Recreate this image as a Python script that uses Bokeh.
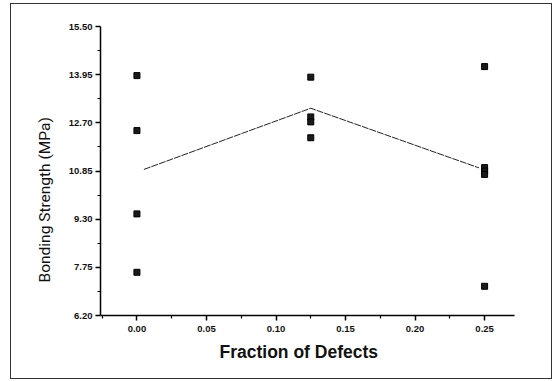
from bokeh.plotting import figure
from bokeh.models import FixedTicker, Range1d, ColumnDataSource, Title, InlineStyleSheet
from bokeh.embed import file_html
from bokeh.resources import INLINE

# Measured bonding strength (MPa) at each defect fraction
defect_fraction = [0.0, 0.0, 0.0, 0.0,
                   0.125, 0.125, 0.125, 0.125,
                   0.25, 0.25, 0.25, 0.25, 0.25]
bonding_strength = [13.92, 12.15, 9.47, 7.59,
                    13.87, 12.59, 12.43, 11.92,
                    14.21, 10.96, 10.85, 10.74, 7.14]

# Trend line through the groups
trend_x = [0.005, 0.125, 0.246]
trend_y = [10.90, 12.87, 10.95]

# Axis ticks and their printed labels
x_ticks = [0.0, 0.05, 0.10, 0.15, 0.20, 0.25]
x_tick_labels = ["0.00", "0.05", "0.10", "0.15", "0.20", "0.25"]
y_ticks = [6.20, 7.75, 9.30, 10.85, 12.40, 13.95, 15.50]
y_tick_labels = ["6.20", "7.75", "9.30", "10.85", "12.70", "13.95", "15.50"]

FONT = "Liberation Sans"

p = figure(width=555, height=381, output_backend="svg", toolbar_location=None,
           x_range=Range1d(-0.0262, 0.2715), y_range=Range1d(6.20, 15.50),
           min_border_left=100, min_border_right=41,
           min_border_top=26, min_border_bottom=66)

p.outline_line_color = None
p.xgrid.visible = False
p.ygrid.visible = False
p.background_fill_color = "white"
p.border_fill_color = "white"

# Outer frame drawn around the whole chart
p.stylesheets = [InlineStyleSheet(css="""
:host { position: relative; }
:host::after {
  content: "";
  position: absolute;
  left: 10px; top: 3px;
  width: 540px; height: 374px;
  border: 1.5px solid #333333;
  pointer-events: none;
}
""")]

# Trend line
p.line(trend_x, trend_y, line_color="#222222", line_width=1, line_dash="7 1")

# Data points
src = ColumnDataSource(dict(x=defect_fraction, y=bonding_strength))
p.scatter("x", "y", source=src, marker="square", size=6,
          fill_color="#1a1a1a", line_color="black", line_width=1)

# X axis
p.xaxis.ticker = FixedTicker(ticks=x_ticks,
                             minor_ticks=[-0.025, 0.025, 0.075, 0.125, 0.175, 0.225, 0.275])
p.xaxis.major_label_overrides = {t: s for t, s in zip(x_ticks, x_tick_labels)}

# Y axis
mids = [(a + b) / 2 for a, b in zip(y_ticks[:-1], y_ticks[1:])]
p.yaxis.ticker = FixedTicker(ticks=y_ticks, minor_ticks=mids)
p.yaxis.major_label_overrides = {t: s for t, s in zip(y_ticks, y_tick_labels)}

for ax in (p.xaxis[0], p.yaxis[0]):
    ax.axis_line_color = "black"
    ax.axis_line_width = 1.5
    ax.major_tick_line_color = "black"
    ax.major_tick_line_width = 1.5
    ax.major_tick_out = 5
    ax.major_tick_in = 0
    ax.minor_tick_line_color = "black"
    ax.minor_tick_line_width = 1.2
    ax.minor_tick_out = 3
    ax.minor_tick_in = 0
    ax.major_label_text_font = FONT
    ax.major_label_text_font_style = "bold"
    ax.major_label_text_font_size = "9.5px"
    ax.major_label_text_color = "#111111"

p.xaxis.major_label_standoff = 5
p.yaxis.major_label_standoff = 3

# Axis titles
p.add_layout(Title(text="Fraction of Defects", align="left", offset=119,
                   text_font=FONT, text_font_style="bold", text_font_size="17.5px",
                   text_color="#111111", standoff=10), "below")
p.add_layout(Title(text="Bonding Strength (MPa)", align="left", offset=33,
                   text_font="Roboto", text_font_style="normal",
                   text_font_size="15.5px", text_color="#111111", standoff=24), "left")

open("out.html", "w").write(file_html(p, INLINE))
